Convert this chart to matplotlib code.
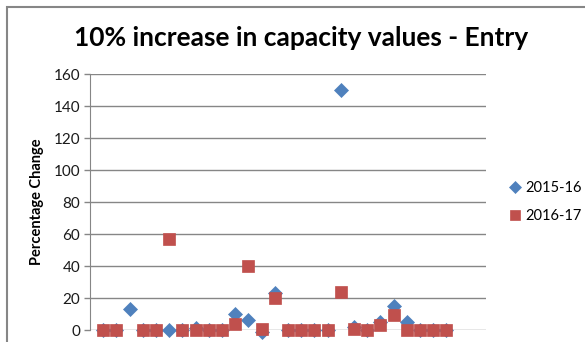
import numpy as np
import matplotlib.pyplot as plt
from matplotlib.patches import Rectangle

plt.rcParams['font.family'] = ['Lato', 'DejaVu Sans']

# point index along the horizontal axis (1..27)
points = np.arange(1, 28)

# percentage change per point; NaN where a series has no value
change_2015_16 = [0, 0, 13, 0, 0, 0, 0, 1.5, 0, 0, 10, 6, -1, 23, 0, 0, 0, 0,
                  150, 2, 0, 5, 15, 5, 0, 0, 0]
change_2016_17 = [0, 0, np.nan, 0, 0, 57, 0, 0, 0, 0, 4, 40, 0.5, 20, 0, 0, 0, 0,
                  24, 0.5, 0, 3, 9.5, 0, 0, 0, 0]

series_labels = ['2015-16', '2016-17']
y_ticks = [0, 20, 40, 60, 80, 100, 120, 140, 160]

blue = '#4F81BD'
red = '#C0504D'
grey = '#868686'

fig = plt.figure(figsize=(5.85, 3.42), dpi=100)
fig.patches.append(Rectangle((7 / 585, -0.1), 1.2, 1 - 7 / 342 + 0.1,
                             transform=fig.transFigure, fill=False,
                             edgecolor=grey, linewidth=1.5))

ax = fig.add_axes([90 / 585, 12 / 342, 396 / 585, 256 / 342])
ax.plot(points, change_2015_16, linestyle='none', marker='D', markersize=7.2,
        color=blue, markeredgewidth=0.5, clip_on=False, label=series_labels[0])
ax.plot(points, change_2016_17, linestyle='none', marker='s', markersize=9,
        color=red, markeredgewidth=0.5, clip_on=False, label=series_labels[1])

ax.set_xlim(0, 30)
ax.set_ylim(0, 160)
ax.set_yticks(y_ticks)
ax.set_xticks([])
ax.yaxis.grid(True, color=grey, linewidth=1)
ax.set_axisbelow(True)
for side in ['top', 'right', 'bottom']:
    ax.spines[side].set_visible(False)
ax.spines['left'].set_color(grey)
ax.tick_params(axis='y', colors=grey, labelcolor='#1a1a1a', labelsize=11,
               length=4, width=1, pad=3)

ax.set_ylabel('Percentage Change', fontsize=10.5, fontweight='bold', labelpad=7)
fig.text(0.515, 1 - 38 / 342, '10% increase in capacity values - Entry',
         ha='center', va='center', fontsize=19, fontweight='bold')

ax.legend(loc='center left', bbox_to_anchor=(499 / 585, 1 - 202 / 342),
          bbox_transform=fig.transFigure, frameon=False, fontsize=10.5,
          markerscale=0.8, handletextpad=0.1, handlelength=1.2,
          labelspacing=0.95, borderpad=0)

fig.savefig('out.png', dpi=100)
